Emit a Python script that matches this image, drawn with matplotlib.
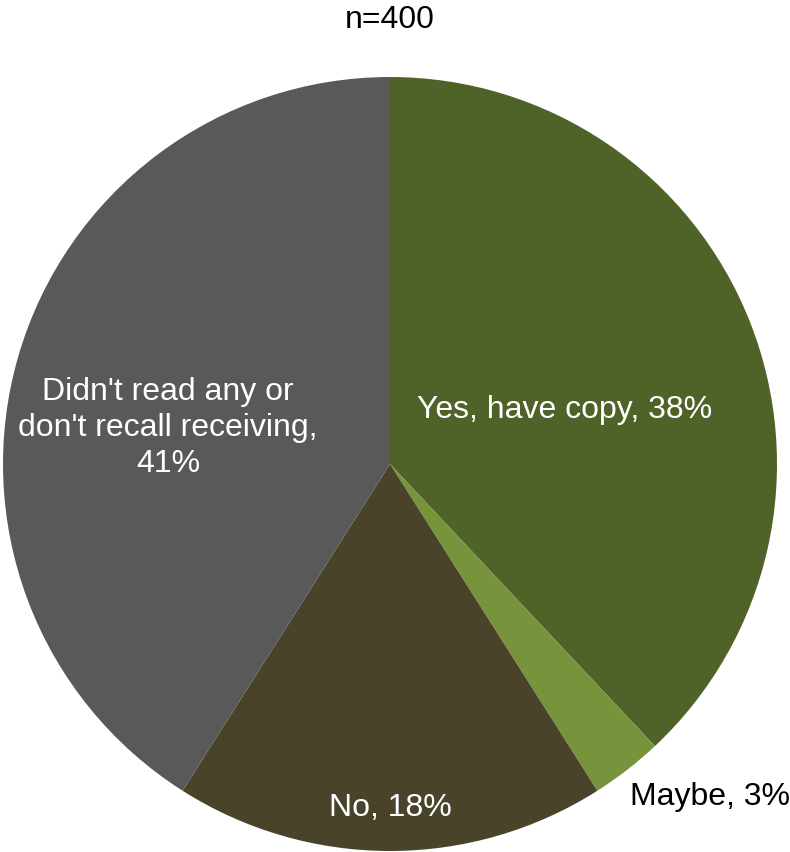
import matplotlib.pyplot as plt

# data
labels = ["Yes, have copy, 38%", "Maybe, 3%", "No, 18%",
          "Didn't read any or\ndon't recall receiving,\n41%"]
shares = [38, 3, 18, 41]
colors = ['#4F6228', '#77933C', '#494429', '#595959']
label_colors = ['white', 'black', 'white', 'white']
# label spots in units of the pie radius
label_xy = [(0.452, 0.142), (0.827, -0.858), (0.0, -0.886), (-0.574, 0.096)]

plt.rcParams['font.family'] = ['Liberation Sans', 'DejaVu Sans']

fig = plt.figure(figsize=(7.9, 8.53), dpi=100)
r = 387
cx, cy = 390, 465
ax = fig.add_axes([(cx - r) / 790, (853 - cy - r) / 853, 2 * r / 790, 2 * r / 853])
ax.pie(shares, colors=colors, startangle=90, counterclock=False, radius=1,
       wedgeprops={'linewidth': 0})
ax.set_xlim(-1, 1)
ax.set_ylim(-1, 1)
ax.set_aspect('equal')
ax.axis('off')

for lab, (x, y), c in zip(labels, label_xy, label_colors):
    ax.text(x, y, lab, color=c, fontsize=23, ha='center', va='center',
            linespacing=1.25)

fig.text(390 / 790, 1 - 20 / 853, "n=400", fontsize=23, ha='center', va='center')

fig.savefig('out.png', dpi=100)
